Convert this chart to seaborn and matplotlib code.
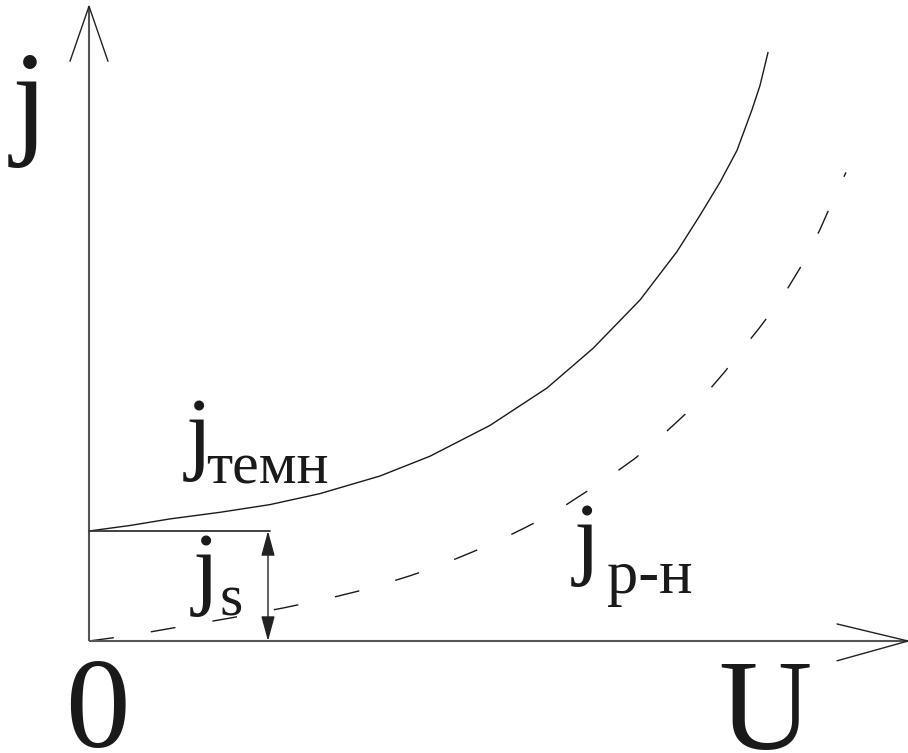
import matplotlib
matplotlib.use("Agg")
import matplotlib.pyplot as plt
import seaborn as sns
import pandas as pd

# Current density j (units of j_s) versus bias U (arbitrary units)
u_dark = [0.00, 0.41, 0.81, 1.31, 1.81, 2.31, 2.91, 3.41, 4.01, 4.58, 5.04, 5.51,
          5.88, 6.11, 6.31, 6.48, 6.63, 6.71, 6.79]
j_dark = [1.00, 1.05, 1.11, 1.17, 1.24, 1.34, 1.50, 1.68, 1.96, 2.30, 2.66, 3.10,
          3.54, 3.87, 4.17, 4.46, 4.83, 5.05, 5.35]

u_pn = [0.00, 0.41, 0.91, 1.42, 1.94, 2.41, 2.81, 3.20, 3.46, 3.81, 4.07, 4.36, 4.64,
        4.91, 5.20, 5.46, 5.71, 5.96, 6.19, 6.36, 6.53, 6.69, 6.84, 6.99, 7.11, 7.21,
        7.31, 7.46, 7.57]
j_pn = [0.00, 0.05, 0.13, 0.21, 0.30, 0.39, 0.48, 0.59, 0.67, 0.80, 0.90, 1.03, 1.16,
        1.32, 1.49, 1.66, 1.85, 2.06, 2.27, 2.45, 2.65, 2.83, 3.01, 3.21, 3.39, 3.56,
        3.74, 4.05, 4.26]

j_s = 1.0          # saturation current density
u_js_marker = 1.79  # where the j_s dimension arrow is drawn

sns.set_theme(style="white")
plt.rcParams["font.family"] = ["Liberation Serif", "DejaVu Serif"]

fig = plt.figure(figsize=(9.08, 7.53), dpi=100)
ax = fig.add_axes([0, 0, 1, 1])
ax.set_xlim(-0.89, 8.19)
ax.set_ylim(-1.018, 5.827)
ax.axis("off")

dark = pd.DataFrame({"U": u_dark, "j": j_dark})
pn = pd.DataFrame({"U": u_pn, "j": j_pn})

sns.lineplot(data=dark, x="U", y="j", ax=ax, sort=False, estimator=None,
             color="#1a1a1a", linewidth=1.0)
sns.lineplot(data=pn, x="U", y="j", ax=ax, sort=False, estimator=None,
             color="#1a1a1a", linewidth=1.0)
ax.lines[-1].set_dashes((18, 27))

# coordinate axes with open arrowheads
axis_col = "#555555"
ax.plot([0, 0], [0, 5.77], color=axis_col, lw=1.5, solid_capstyle="butt")
ax.plot([0, 8.19], [0, 0], color=axis_col, lw=1.5, solid_capstyle="butt")
ax.plot([-0.19, 0, 0.19], [5.27, 5.77, 5.27], color="#222222", lw=1.0)
ax.plot([7.48, 8.19, 7.48], [0.155, 0, -0.18], color="#222222", lw=1.0)

# j_s level and its dimension arrow
ax.plot([0, u_js_marker + 0.02], [j_s, j_s], color="#333333", lw=1.3)
ax.annotate("", xy=(u_js_marker, j_s), xytext=(u_js_marker, 0),
            arrowprops=dict(arrowstyle="<|-|>,head_length=1.1,head_width=0.3",
                            color="#222222", lw=1.0, shrinkA=0, shrinkB=0,
                            mutation_scale=14))

txt = dict(color="#1a1a1a", va="baseline")
big = 93
mid = 68
sub = 43


def px(x, y):
    return (x - 89) / 100, (641 - y) / 110


ax.text(*px(30, 140), "j", fontsize=big, ha="center", **txt)
ax.text(*px(97, 747), "0", fontsize=big, ha="center", **txt)
ax.text(*px(765, 749), "U", fontsize=big, ha="center", **txt)

ax.text(*px(199, 462), "j", fontsize=mid, ha="center", **txt)
ax.text(*px(206, 483), "темн", fontsize=sub, ha="left", **txt)

ax.text(*px(206, 597), "j", fontsize=mid, ha="center", **txt)
ax.text(*px(219, 615), "s", fontsize=sub, ha="left", **txt)

ax.text(*px(587, 567), "j", fontsize=mid, ha="center", **txt)
ax.text(*px(607, 593), "p-н", fontsize=sub + 2, ha="left", **txt)

fig.savefig("out.png", dpi=100, facecolor="white")
